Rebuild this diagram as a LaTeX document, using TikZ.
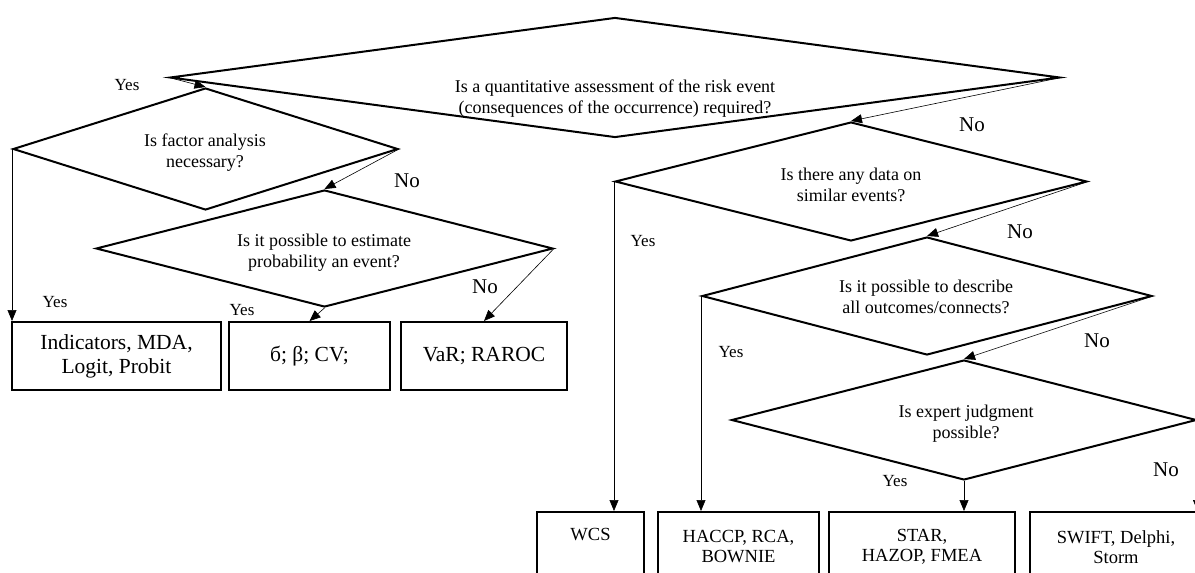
\documentclass[tikz,border=0pt]{standalone}
\usepackage{fontspec}
\setmainfont{Liberation Serif}
\usetikzlibrary{shapes.geometric,arrows.meta}
\newcommand\fDia{\fontsize{18}{21}\selectfont}
\newcommand\fBoxL{\fontsize{21.5}{24}\selectfont}
\newcommand\fBoxB{\fontsize{18.5}{20}\selectfont}
\newcommand\fYes{\fontsize{17}{20}\selectfont}
\newcommand\fNo{\fontsize{21}{24}\selectfont}
\begin{document}
\begin{tikzpicture}[x=1pt,y=-1pt,
  dia/.style={draw, line width=2pt, shape=diamond, inner sep=0pt},
  dtext/.style={align=center, inner sep=0pt, font=\fDia},
  boxL/.style={draw, line width=2pt, rectangle, inner sep=0pt, minimum height=68pt, align=center, font=\fBoxL},
  boxB/.style={draw, line width=2pt, rectangle, inner sep=0pt, minimum height=70pt, align=center, font=\fBoxB},
  conn/.style={line width=0.6pt, -{Triangle[length=11pt,width=9pt]}},
  yes/.style={font=\fYes, inner sep=0pt},
  no/.style={font=\fNo, inner sep=0pt}]
\useasboundingbox (0,0) rectangle (1195,573);
\clip (0,0) rectangle (1195,573);
% diamonds
\node[dia, minimum width=890pt, minimum height=120pt] (d1) at (615,77.5) {};
\node[dtext] (t1) at (615,98.5) {Is a quantitative assessment of the risk event\\(consequences of the occurrence) required?};
\node[dia, minimum width=385pt, minimum height=122pt] (d2) at (205.5,149) {};
\node[dtext] (t2) at (205,153) {Is factor analysis\\necessary?};
\node[dia, minimum width=457pt, minimum height=117pt] (d3) at (324.5,248.5) {};
\node[dtext] (t3) at (324,253) {Is it possible to estimate\\probability an event?};
\node[dia, minimum width=472pt, minimum height=119pt] (d4) at (851,181.5) {};
\node[dtext] (t4) at (851,185) {Is there any data on\\similar events?};
\node[dia, minimum width=450pt, minimum height=118pt] (d5) at (927,296) {};
\node[dtext] (t5) at (926,297) {Is it possible to describe\\all outcomes/connects?};
\node[dia, minimum width=465pt, minimum height=120pt] (d6) at (964,420) {};
\node[dtext] (t6) at (966,424) {Is expert judgment\\possible?};
% boxes
\node[boxL, minimum width=209pt] (b1) at (116.5,356) {Indicators, MDA,\\Logit, Probit};
\node[boxL, minimum width=161pt] (b2) at (309.5,356) {б; β; CV;};
\node[boxL, minimum width=166pt] (b3) at (484,356) {VaR; RAROC};
\node[boxB, minimum width=107pt] (wcs) at (590.5,547) {WCS\\\strut};
\node[boxB, minimum width=161pt] (haccp) at (738.5,547) {HACCP, RCA,\\BOWNIE};
\node[boxB, minimum width=186pt] (star) at (922,547) {STAR,\\HAZOP, FMEA};
\node[boxB, minimum width=172pt] (swift) at (1116,547) {SWIFT, Delphi,\\Storm};
% connectors
\draw[conn] (d1.west) -- (d2.north);
\draw[conn] (d2.west) -- (d2.west |- b1.north);
\draw[conn] (d2.east) -- (d3.north);
\draw[conn] (d3.south) -- (b2.north);
\draw[conn] (d3.east) -- (b3.north);
\draw[conn] (d1.east) -- (d4.north);
\draw[conn] (d4.west) -- (d4.west |- wcs.north);
\draw[conn] (d4.east) -- (d5.north);
\draw[conn] (d5.west) -- (d5.west |- haccp.north);
\draw[conn] (d5.east) -- (d6.north);
\draw[conn] (d6.south) -- (d6.south |- star.north);
\draw[conn] (d6.east) -- (d6.east |- swift.north);
% labels
\node[yes] (y1) at (127,85) {Yes};
\node[no] (n2) at (407,181) {No};
\node[yes] (y2) at (55,302) {Yes};
\node[yes] (y3) at (242,310) {Yes};
\node[no] (n3) at (485,287) {No};
\node[no] (n1) at (972,125) {No};
\node[yes] (y4) at (643,241) {Yes};
\node[no] (n4) at (1020,232) {No};
\node[yes] (y5) at (731,352) {Yes};
\node[no] (n5) at (1097,341) {No};
\node[yes] (y6) at (895,481) {Yes};
\node[no] (n6) at (1166,470) {No};
\end{tikzpicture}
\end{document}
